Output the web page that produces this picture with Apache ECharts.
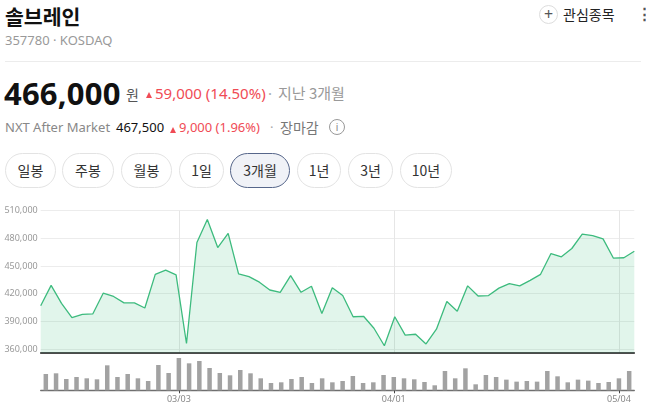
<!DOCTYPE html>
<html>
<head>
<meta charset="utf-8">
<script src="https://cdn.jsdelivr.net/npm/echarts@6/dist/echarts.min.js"></script>
<style>
  html, body { margin:0; padding:0; background:#fff; width:646px; height:413px; overflow:hidden; }
  body { font-family: "Noto Sans", "Noto Sans CJK KR", sans-serif; position:relative; }
  .t { position:absolute; white-space:nowrap; }
  .btn { position:absolute; top:153px; height:33px; border:1px solid #e3e3e3; border-radius:18px;
         font-size:14px; color:#333; line-height:33px; text-align:center; font-family:"Noto Sans CJK KR","Noto Sans",sans-serif; }
  .btn.sel { border:1px solid #56668a; background:#f0f2f7; }
  .tri { display:inline-block; width:0; height:0; border-left:3.5px solid transparent; border-right:3.5px solid transparent; border-bottom:6px solid #f04b55; }
  #chart { position:absolute; left:0; top:200px; width:646px; height:213px; }
</style>
</head>
<body>
<div class="t" style="left:5px; top:3px; font-size:20.5px; font-weight:bold; color:#111; line-height:26px; font-family:'Noto Sans CJK KR',sans-serif;">솔브레인</div>
<div class="t" style="left:5px; top:31px; font-size:13px; color:#999; line-height:18px;">357780 · KOSDAQ</div>

<div class="t" style="left:539px; top:5px; width:17px; height:17px; border:1px solid #ddd; border-radius:50%; font-size:16px; line-height:16px; text-align:center; color:#555;">+</div>
<div class="t" style="left:563px; top:4px; font-size:14px; color:#222; line-height:20px; font-family:'Noto Sans CJK KR',sans-serif;">관심종목</div>
<div class="t" style="left:637px; top:3px; font-size:15px; color:#555; line-height:20px; font-weight:bold;">⋮</div>

<div style="position:absolute; left:5px; top:61px; width:636px; height:1px; background:#ececec;"></div>

<div class="t" style="left:4px; top:74px; font-size:31px; font-weight:bold; color:#111; line-height:38px; letter-spacing:0.2px;">466,000</div>
<div class="t" style="left:126px; top:84px; font-size:14px; color:#555; line-height:20px; font-family:'Noto Sans CJK KR',sans-serif;">원</div>
<div class="t" style="left:146px; top:89px; line-height:6px;"><span class="tri"></span></div>
<div class="t" style="left:155px; top:83px; font-size:15px; color:#f04b55; line-height:20px;">59,000 (14.50%)</div>
<div class="t" style="left:268px; top:83px; font-size:15px; color:#aaa; line-height:20px;">·</div>
<div class="t" style="left:278px; top:83px; font-size:15px; color:#999; line-height:20px; font-family:'Noto Sans CJK KR',sans-serif;">지난 3개월</div>

<div class="t" style="left:5px; top:118px; font-size:13px; color:#888; line-height:18px;">NXT After Market</div>
<div class="t" style="left:116px; top:118px; font-size:13px; color:#111; line-height:18px;">467,500</div>
<div class="t" style="left:170px; top:124px; line-height:6px;"><span class="tri"></span></div>
<div class="t" style="left:179px; top:118px; font-size:13px; color:#f04b55; line-height:18px;">9,000 (1.96%)</div>
<div class="t" style="left:270px; top:118px; font-size:13px; color:#aaa; line-height:18px;">·</div>
<div class="t" style="left:280px; top:117px; font-size:14px; color:#777; line-height:20px; font-family:'Noto Sans CJK KR',sans-serif;">장마감</div>
<div class="t" style="left:329px; top:119px; width:14px; height:14px; border:1px solid #999; border-radius:50%; font-size:10px; line-height:14px; text-align:center; color:#888;">i</div>

<div class="btn" style="left:5px; width:49px;">일봉</div>
<div class="btn" style="left:62px; width:50px;">주봉</div>
<div class="btn" style="left:121px; width:49px;">월봉</div>
<div class="btn" style="left:179px; width:43px;">1일</div>
<div class="btn sel" style="left:230px; width:58px;">3개월</div>
<div class="btn" style="left:297px; width:42px;">1년</div>
<div class="btn" style="left:348px; width:43px;">3년</div>
<div class="btn" style="left:400px; width:50px;">10년</div>

<div id="chart"></div>
<script>
// ---- data ----
var dates = [
  '02/06','02/09','02/10','02/11','02/12','02/13','02/19','02/20','02/23','02/24','02/25','02/26','02/27',
  '03/03','03/04','03/05','03/06','03/09','03/10','03/11','03/12','03/13','03/16','03/17','03/18','03/19','03/20',
  '03/23','03/24','03/25','03/26','03/27','03/30','03/31',
  '04/01','04/02','04/03','04/06','04/07','04/08','04/09','04/10','04/13','04/14','04/15','04/16','04/17',
  '04/20','04/21','04/22','04/23','04/24','04/27','04/28','04/29','04/30',
  '05/04','05/06'
];
var closePrices = [
  407000, 429000, 409500, 394000, 397500, 398000, 420500, 417000, 410000, 410000, 404500, 441000, 445500,
  440500, 366000, 475500, 500500, 470000, 485500, 441500, 438500, 432500, 424000, 421500, 439500, 421500, 428000,
  398500, 426500, 418000, 395000, 395500, 382500, 363500,
  395000, 375000, 376000, 365500, 381500, 411500, 401000, 428500, 417500, 418000, 426000, 431000, 428500,
  434500, 441000, 463500, 460000, 469000, 484500, 483000, 479500, 458500,
  459000, 466000
];
var volumes = [
  49000, 51000, 34000, 40000, 36000, 33000, 75000, 40000, 49000, 36000, 28000, 76000, 52000,
  97000, 81000, 88000, 67000, 52000, 45000, 61000, 51000, 36000, 22000, 24000, 34000, 40000, 22000,
  36000, 24000, 28000, 43000, 22000, 24000, 46000,
  40000, 36000, 33000, 25000, 15000, 58000, 36000, 66000, 18000, 46000, 40000, 32000, 26000,
  28000, 26000, 58000, 42000, 24000, 32000, 29000, 22000, 25000,
  36000, 58000
];
var xTickLabels = ['03/03', '04/01', '05/04'];
var yTickValues = [360000, 390000, 420000, 450000, 480000, 510000];
var yMin = 356000, yMax = 510000;

function isTick(i) { return xTickLabels.indexOf(dates[i]) >= 0; }

var chart = echarts.init(document.getElementById('chart'), null, { renderer: 'canvas' });
chart.setOption({
  animation: false,
  grid: [
    { left: 40.7, right: 11.7, top: 10.7, height: 142 },
    { left: 40.7, right: 11.7, top: 158, height: 32.3 }
  ],
  xAxis: [
    { type: 'category', gridIndex: 0, data: dates, boundaryGap: false,
      axisLine: { show: true, lineStyle: { color: '#111', width: 1.5 } },
      axisTick: { show: false }, axisLabel: { show: false }, splitLine: { show: false } },
    { type: 'category', gridIndex: 0, data: dates, boundaryGap: true, show: true,
      axisLine: { show: false }, axisTick: { show: false, alignWithLabel: true, interval: function (i) { return isTick(i); } },
      axisLabel: { show: false },
      splitLine: { show: true, alignWithLabel: true, interval: function (i) { return isTick(i); },
                   lineStyle: { color: '#e6e6e6', width: 1 } } },
    { type: 'category', gridIndex: 1, data: dates, boundaryGap: true,
      axisLine: { show: true, lineStyle: { color: '#6f6f6f', width: 1.3 } },
      axisTick: { show: true, alignWithLabel: true, length: 3, interval: function (i) { return isTick(i); },
                  lineStyle: { color: '#444', width: 1 } },
      axisLabel: { show: true, interval: function (i) { return isTick(i); }, fontSize: 9, color: '#888', margin: 5,
                   fontFamily: 'Noto Sans' },
      splitLine: { show: false } }
  ],
  yAxis: [
    { type: 'value', gridIndex: 0, min: yMin, max: yMax,
      axisLine: { show: false },
      axisTick: { show: false, customValues: yTickValues },
      axisLabel: { customValues: yTickValues, fontSize: 9, color: '#999', margin: 3, fontFamily: 'Noto Sans',
                   formatter: function (v) { return v.toLocaleString('en-US'); } },
      splitLine: { show: true, lineStyle: { color: '#ececec', width: 1 } } },
    { type: 'value', gridIndex: 1, min: 0, max: 'dataMax', show: false, splitLine: { show: false } }
  ],
  series: [
    { type: 'line', xAxisIndex: 0, yAxisIndex: 0, data: closePrices, symbol: 'none',
      lineStyle: { color: '#3dbb7e', width: 1.3 },
      areaStyle: { color: 'rgba(61,187,126,0.22)' } },
    { type: 'bar', xAxisIndex: 2, yAxisIndex: 1, data: volumes, barWidth: 4.5,
      itemStyle: { color: '#a2a2a2' } }
  ]
});
</script>
</body>
</html>
